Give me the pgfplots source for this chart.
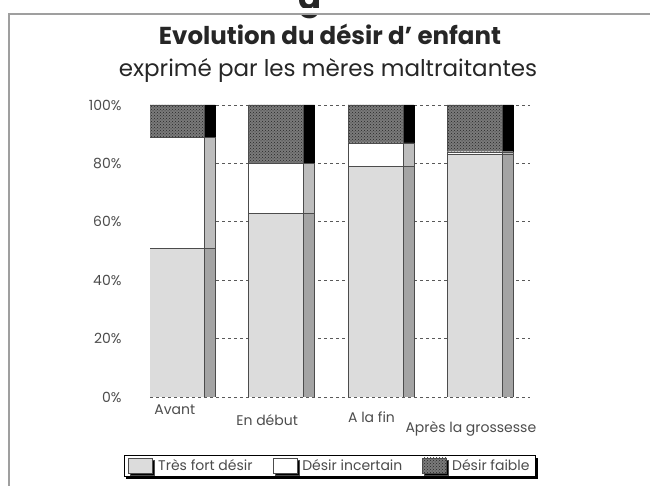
\documentclass[border=0pt]{standalone}
\usepackage{pgfplots}
\pgfplotsset{compat=1.18}
\usepackage{pgfplotstable}
\usepackage{fontspec}
\setmainfont{Poppins}
\usetikzlibrary{patterns,shadows}

\definecolor{fortF}{HTML}{DCDCDC}
\definecolor{fortS}{HTML}{A4A4A4}
\definecolor{incS}{HTML}{BDBDBD}
\definecolor{faibF}{HTML}{7A7A7A}

\pgfplotstableread{
x fort inc faib
0 51 38 11
1 63 17 20
2 79 8 13
3 83 1 16
}\data

\begin{document}
\begin{tikzpicture}[x=1pt,y=1pt]
\path[use as bounding box] (0pt,0pt) rectangle (650pt,486pt);
\node[font=\bfseries\fontsize{34}{34}\selectfont, anchor=base, text=black!85] at (310pt,476pt) {g};
\fill[white] (0pt,472pt) rectangle (650pt,478pt);
\draw[gray!75, line width=1.6pt] (9pt,-2pt) -- (9pt,472pt) -- (652pt,472pt);
\node[font=\bfseries\fontsize{24.5}{30}\selectfont, anchor=base, text=black!85] at (330pt,441pt) {Evolution du désir d' enfant};
\node[font=\fontsize{23}{28}\selectfont, anchor=base, text=black!85] at (328pt,409pt) {exprimé par les mères maltraitantes};

\begin{axis}[at={(150pt,89pt)}, anchor=south west, scale only axis,
  width=380pt, height=292pt, xmin=-0.27, xmax=3.555, ymin=0, ymax=100,
  ybar stacked, bar width=11pt, bar shift=33pt,
  axis line style={draw=none}, tick style={draw=none},
  xtick=\empty, ytick={0,20,...,100}, yticklabels={},
  ymajorgrids, grid style={black!65, line width=0.9pt, dash pattern=on 3pt off 3pt}]
\addplot[fill=fortS, draw=black!70] table[x=x,y=fort]{\data};
\addplot[fill=incS, draw=black!70] table[x=x,y=inc]{\data};
\addplot[fill=black, draw=black] table[x=x,y=faib]{\data};
\end{axis}

\begin{axis}[at={(150pt,89pt)}, anchor=south west, scale only axis,
  width=380pt, height=292pt, xmin=-0.27, xmax=3.555, ymin=0, ymax=100,
  ybar stacked, bar width=55pt, bar shift=0pt,
  axis line style={draw=none}, tick style={draw=none},
  ytick={0,20,...,100}, yticklabels={0\%,20\%,40\%,60\%,80\%,100\%},
  yticklabel style={xshift=-25pt, anchor=east, text=black!70, font=\fontsize{14}{16}\selectfont},
  xtick={0,1,2,3},
  xticklabels={\raisebox{-13pt}[0pt][0pt]{Avant\hspace{4pt}},\raisebox{-24pt}[0pt][0pt]{En début\hspace{18pt}},\raisebox{-21pt}[0pt][0pt]{A la fin\hspace{8pt}},\raisebox{-31pt}[0pt][0pt]{Après la grossesse\hspace{8pt}}},
  xticklabel style={anchor=north, yshift=-1pt, text=black!70, font=\fontsize{14}{16}\selectfont},
  legend style={at={(0.4737,-0.236)}, anchor=center, legend columns=3,
    draw=black, line width=0.8pt, fill=white,
    drop shadow={shadow xshift=2pt, shadow yshift=-2.5pt, fill=black, opacity=1},
    font=\fontsize{14}{16}\selectfont, text=black!70, inner xsep=4pt, inner ysep=2pt,
    /tikz/every odd column/.append style={column sep=3pt},
    /tikz/every even column/.append style={column sep=18pt}},
  legend image code/.code={\draw[#1, line width=0.8pt] (0pt,-7pt) rectangle (24pt,8pt);}]
\addplot[fill=fortF, draw=black!70] table[x=x,y=fort]{\data};
\addlegendentry{Très fort désir}
\addplot[fill=white, draw=black!70] table[x=x,y=inc]{\data};
\addlegendentry{Désir incertain}
\addplot[fill=faibF, draw=black!70, postaction={pattern=crosshatch dots, pattern color=black!85}] table[x=x,y=faib]{\data};
\addlegendentry{Désir faible\hspace{30pt}}
\end{axis}
\end{tikzpicture}
\end{document}
